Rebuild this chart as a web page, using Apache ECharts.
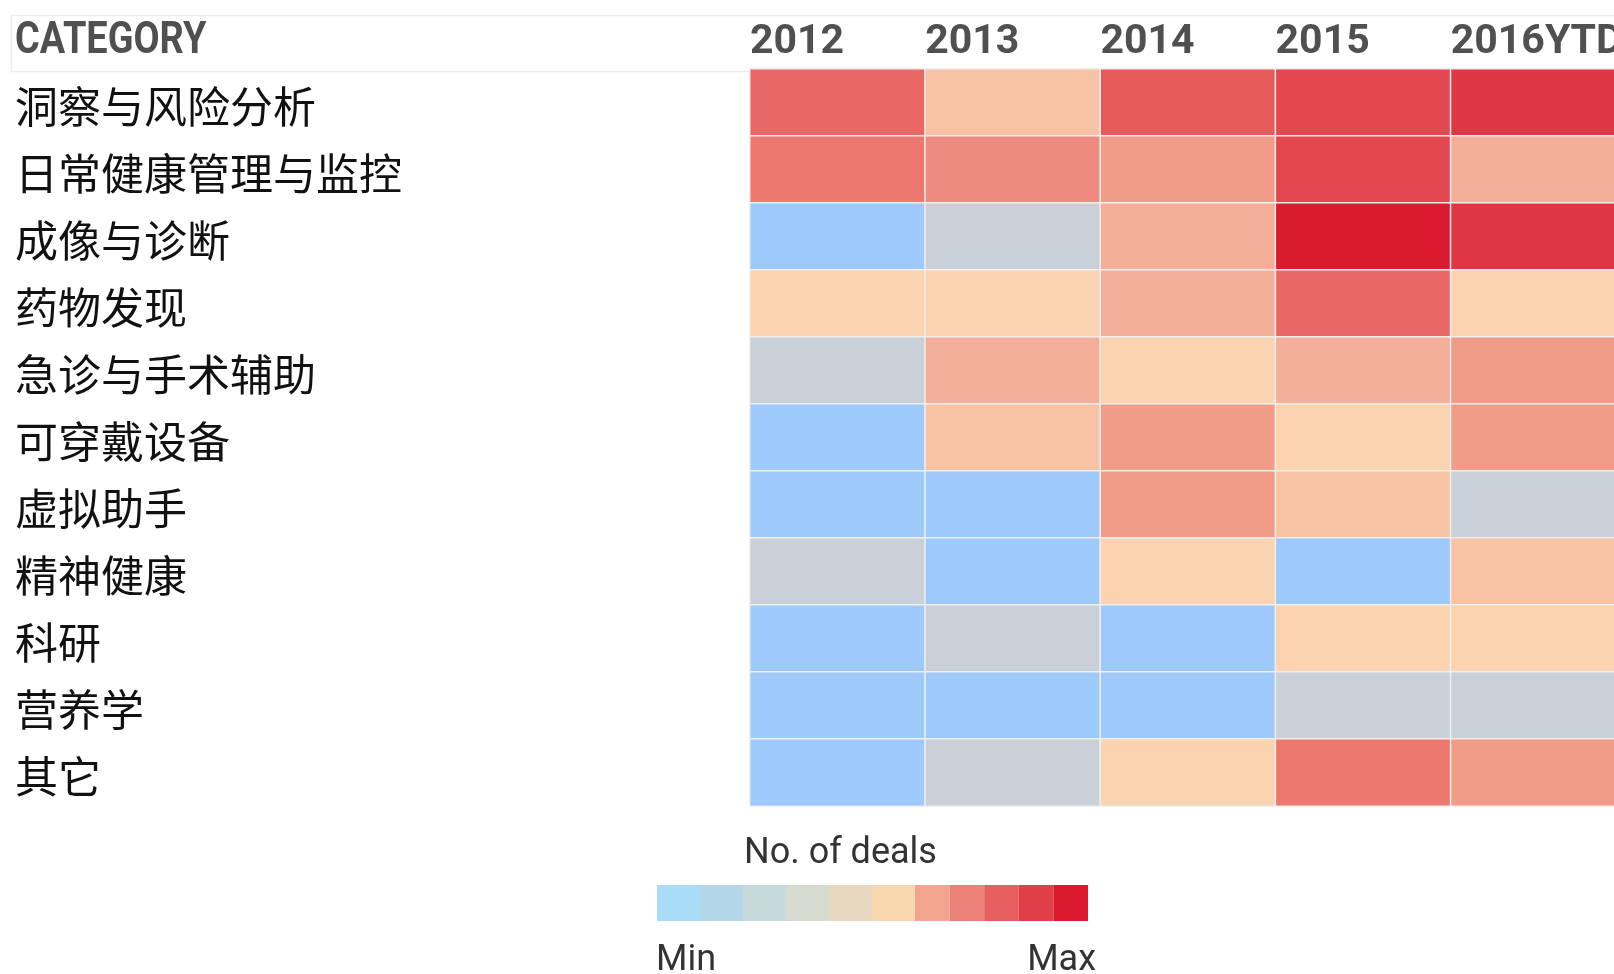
<!DOCTYPE html>
<html>
<head>
<meta charset="utf-8">
<script src="https://cdn.jsdelivr.net/npm/echarts@6/dist/echarts.min.js"></script>
<style>
html,body{margin:0;padding:0;background:#fff;}
#c{width:1614px;height:974px;}
</style>
</head>
<body>
<div id="c"></div>
<script>
// ---- data ----
const categories = ['洞察与风险分析','日常健康管理与监控','成像与诊断','药物发现','急诊与手术辅助','可穿戴设备','虚拟助手','精神健康','科研','营养学','其它'];
const years = ['2012','2013','2014','2015','2016YTD'];
// relative deal level (0 = min ... 12 = max)
const v2012 = [8, 7, 0, 2, 1, 0, 0, 1, 0, 0, 0];
const v2013 = [3, 6, 1, 2, 4, 3, 0, 0, 1, 0, 1];
const v2014 = [9, 5, 4, 4, 2, 5, 5, 2, 0, 0, 2];
const v2015 = [10, 10, 12, 8, 4, 2, 3, 0, 2, 1, 7];
const v2016 = [11, 4, 11, 2, 5, 5, 1, 3, 2, 1, 5];
const legendCoolLevels = [0, 1, 2, 3, 4, 5];
const legendWarmLevels = [6, 7, 8, 9, 10];
const legendTitle = 'No. of deals';
const legendMin = 'Min';
const legendMax = 'Max';
const headerLabel = 'CATEGORY';

// ---- styles ----
const cellColors = ['#9dc9fb','#c9d0d8','#fad4b0','#f8c3a5','#f4af98','#f19c88','#ef8a7e','#ec7870','#e96866','#e75a5a','#e3474f','#df3646','#da1a2e'];
const legendCool = ['#a9dcf6','#b3d6e8','#c6dadb','#d6dbd0','#e8d8c0','#f8d6ae'];
const legendWarm = ['#f2a58e','#ec8277','#e65f5f','#e03e49','#dc1a2e'];

const cols = [v2012, v2013, v2014, v2015, v2016];
const cells = [];
cols.forEach((arr, xi) => arr.forEach((v, yi) => cells.push([xi, yi, v])));

const gridLeft = 750, gridTop = 69, gridW = 876, gridH = 737;

const chart = echarts.init(document.getElementById('c'), null, {renderer: 'canvas'});
chart.setOption({
  animation: false,
  backgroundColor: '#fff',
  grid: {left: gridLeft, top: gridTop, width: gridW, height: gridH, outerBoundsMode: 'none', containLabel: false},
  xAxis: [
    {type: 'category', data: years, position: 'top',
     axisLine: {show: false}, axisTick: {show: false}, axisLabel: {show: false}, splitLine: {show: false}},
    {type: 'category', data: years.concat(['']), position: 'top', boundaryGap: false,
     axisLine: {show: false}, axisTick: {show: false}, splitLine: {show: false},
     axisLabel: {interval: 0, align: 'left', verticalAlign: 'middle', margin: 26, hideOverlap: false,
       fontFamily: 'Roboto, sans-serif', fontWeight: 'bold', fontSize: 41, color: '#505050'}}
  ],
  yAxis: {
    type: 'category', data: categories, inverse: true,
    axisLine: {show: false}, axisTick: {show: false}, splitLine: {show: false},
    axisLabel: {align: 'left', verticalAlign: 'top', lineHeight: 9, margin: gridLeft - 15,
      fontFamily: '"Noto Sans CJK SC", sans-serif', fontSize: 43, color: '#111'}
  },
  visualMap: [
    {type: 'continuous', show: false, seriesIndex: 0, min: 0, max: 12, dimension: 2,
     inRange: {color: cellColors}},
    {type: 'piecewise', seriesIndex: 1, orient: 'horizontal', left: 657, top: 885, padding: 0,
     itemWidth: 43, itemHeight: 36, itemGap: 0, itemSymbol: 'rect', showLabel: false,
     selectedMode: false, hoverLink: false,
     pieces: legendCoolLevels.map((v, i) => ({value: v, color: legendCool[i]}))},
    {type: 'piecewise', seriesIndex: 1, orient: 'horizontal', left: 915, top: 885, padding: 0,
     itemWidth: 34.6, itemHeight: 36, itemGap: 0, itemSymbol: 'rect', showLabel: false,
     selectedMode: false, hoverLink: false,
     pieces: legendWarmLevels.map((v, i) => ({value: v, color: legendWarm[i]}))}
  ],
  series: [
    {type: 'heatmap', xAxisIndex: 0, yAxisIndex: 0, data: cells,
     itemStyle: {borderColor: '#f2eeee', borderWidth: 1.5}, emphasis: {disabled: true}},
    {type: 'heatmap', xAxisIndex: 0, yAxisIndex: 0, data: []}
  ],
  graphic: [
    {type: 'rect', left: 9, top: 13, z: -1, shape: {width: 1620, height: 56},
     style: {fill: 'none', stroke: '#ececec', lineWidth: 1.5}},
    {type: 'text', x: 15, y: 42, scaleX: 0.86, style: {text: headerLabel, verticalAlign: 'middle',
      font: 'bold 44px Roboto, sans-serif', fill: '#505050'}},
    {type: 'text', left: 744, top: 836, style: {text: legendTitle, font: '36px Roboto, "Noto Sans", sans-serif', fill: '#333'}},
    {type: 'text', left: 656, top: 943, style: {text: legendMin, font: '36px Roboto, "Noto Sans", sans-serif', fill: '#333'}},
    {type: 'text', right: 1614 - 1096, top: 943, style: {text: legendMax, font: '36px Roboto, "Noto Sans", sans-serif', fill: '#333'}}
  ]
});
</script>
</body>
</html>
